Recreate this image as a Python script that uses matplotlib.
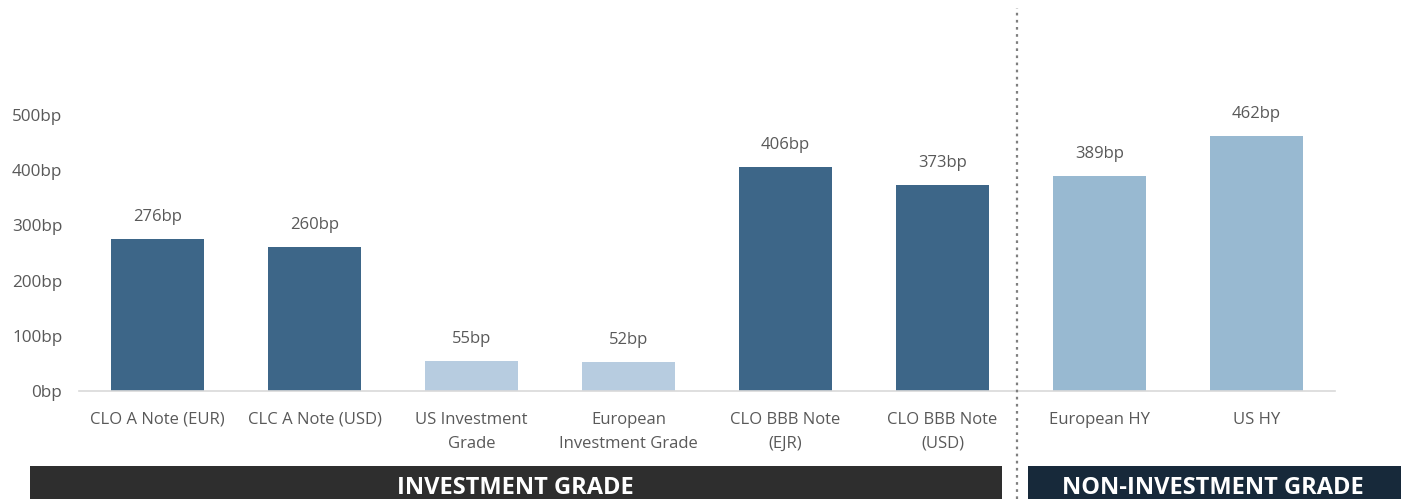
import matplotlib
matplotlib.use("Agg")
import matplotlib.pyplot as plt
from matplotlib.patches import Rectangle
from matplotlib.lines import Line2D
from matplotlib.transforms import blended_transform_factory

# Spread data (basis points)
categories = [
    "CLO A Note (EUR)", "CLC A Note (USD)", "US Investment\nGrade",
    "European\nInvestment Grade", "CLO BBB Note\n(EJR)", "CLO BBB Note\n(USD)",
    "European HY", "US HY",
]
spreads = [276, 260, 55, 52, 406, 373, 389, 462]
value_labels = ["276bp", "260bp", "55bp", "52bp", "406bp", "373bp", "389bp", "462bp"]
bar_colors = ["#3d6688", "#3d6688", "#b7cce0", "#b7cce0",
              "#3d6688", "#3d6688", "#98b9d1", "#98b9d1"]
y_ticks = [0, 100, 200, 300, 400, 500]
y_tick_labels = ["0bp", "100bp", "200bp", "300bp", "400bp", "500bp"]
group_labels = ["INVESTMENT GRADE", "NON-INVESTMENT GRADE"]

plt.rcParams["font.family"] = ["Open Sans", "DejaVu Sans"]

W, H = 1407, 499
fig = plt.figure(figsize=(W / 100, H / 100), dpi=100)
fig.patch.set_facecolor("white")

ax = fig.add_axes([79 / W, (H - 391) / H, (1335 - 79) / W, (391 - 115) / H])
x = list(range(len(categories)))
ax.bar(x, spreads, width=0.59, color=bar_colors, zorder=2)
ax.set_xlim(-0.5, len(categories) - 0.5)
ax.set_ylim(0, 500)

for xi, v, lab in zip(x, spreads, value_labels):
    ax.annotate(lab, (xi, v), xytext=(0, 22), textcoords="offset pixels",
                ha="center", va="center", fontsize=12, color="#595959")

for s in ["top", "right", "left"]:
    ax.spines[s].set_visible(False)
ax.spines["bottom"].set_color("#d9d9d9")
ax.spines["bottom"].set_linewidth(1.2)

ax.set_yticks(y_ticks)
ax.set_yticklabels(y_tick_labels)
ax.tick_params(axis="y", length=0, pad=12, labelsize=12.3, labelcolor="#595959")
ax.set_xticks(x)
ax.set_xticklabels(categories, linespacing=1.65)
ax.tick_params(axis="x", length=0, pad=15, labelsize=12, labelcolor="#595959")

# Dotted divider between investment grade and high yield
trans = blended_transform_factory(ax.transData, fig.transFigure)
fig.add_artist(Line2D([5.475, 5.475], [0, (H - 8) / H], transform=trans,
                      color="#7f7f7f", linestyle=(0, (1.2, 2.0)), linewidth=1.6))

# Group banners along the bottom
box_top = (H - 466) / H
fig.add_artist(Rectangle((30 / W, 0), (1002 - 30) / W, box_top,
                         transform=fig.transFigure, facecolor="#2e2e2e",
                         edgecolor="none"))
fig.add_artist(Rectangle((1028 / W, 0), (1401 - 1028) / W, box_top,
                         transform=fig.transFigure, facecolor="#17293a",
                         edgecolor="none"))
fig.text(515 / W, (H - 476) / H, group_labels[0], ha="center", va="top",
         fontsize=17, fontweight="bold", color="white")
fig.text(1213 / W, (H - 476) / H, group_labels[1], ha="center", va="top",
         fontsize=17, fontweight="bold", color="white")

fig.savefig("out.png", dpi=100, facecolor="white")
